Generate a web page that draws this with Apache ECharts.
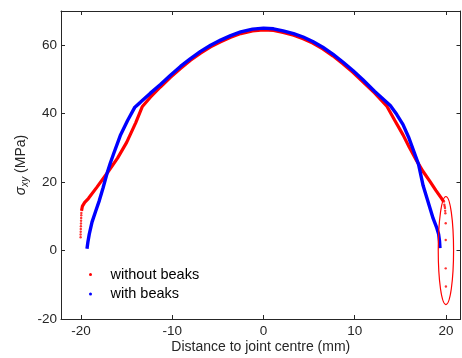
<!DOCTYPE html>
<html>
<head>
<meta charset="utf-8">
<script src="https://cdn.jsdelivr.net/npm/echarts@6/dist/echarts.min.js"></script>
<style>
html,body{margin:0;padding:0;background:#fff;}
#chart{width:462px;height:358px;}
</style>
</head>
<body>
<div id="chart"></div>
<script>
// ---- data ----
var xTicks = [-20, -10, 0, 10, 20];
var yTicks = [-20, 0, 20, 40, 60];
var seriesNames = ['without beaks', 'with beaks'];

// "without beaks" dense part (x mm, sigma_xy MPa)
var redLine = [
  [-19.95, 11.6], [-19.85, 13.0], [-19.6, 14.1], [-19.2, 15.2], [-18.3, 18.4],
  [-17.15, 22.6], [-16.0, 27.0], [-15.0, 31.6], [-14.0, 37.4], [-13.3, 42.0],
  [-12.4, 44.8], [-11.3, 47.8], [-10.2, 50.6], [-9.1, 53.2], [-8.0, 55.6],
  [-6.9, 57.7], [-5.8, 59.5], [-4.7, 61.0], [-3.6, 62.3], [-2.5, 63.4],
  [-1.2, 64.2], [0, 64.5], [1.1, 64.3], [2.15, 63.7], [3.3, 62.9],
  [4.35, 61.9], [5.4, 60.6], [6.5, 58.9], [7.6, 56.9], [8.7, 54.6],
  [9.8, 52.1], [10.9, 49.3], [12.2, 46.0], [13.5, 42.3], [14.4, 38.0],
  [15.3, 33.8], [16.0, 30.1], [16.8, 26.2], [17.5, 23.1], [18.25, 20.2],
  [18.9, 17.6], [19.5, 15.3], [19.75, 14.3]
];
// "without beaks" sparse end points
var redDotsLeft = [
  [-20.05, 3.9], [-20.05, 4.7], [-20.04, 5.5], [-20.03, 6.3], [-20.02, 7.1],
  [-20.01, 7.9], [-20.0, 8.7], [-19.99, 9.5], [-19.98, 10.3], [-19.97, 11.0]
];
var redDotsRight = [
  [19.79, 14.3], [19.83, 13.4], [19.87, 12.9], [19.9, 12.4], [19.92, 11.6],
  [19.94, 10.9], [19.98, 8.0], [19.98, 3.1], [19.98, -5.2], [20.0, -10.5]
];
// "with beaks"
var blueLine = [
  [-19.35, 0.5], [-19.25, 2.5], [-19.1, 4.8], [-18.8, 8.3], [-18.4, 11.5],
  [-18.0, 14.6], [-17.6, 18.2], [-17.15, 22.6], [-16.8, 25.5], [-16.4, 28.5],
  [-15.7, 33.6], [-14.9, 38.0], [-14.1, 41.9], [-13.5, 43.3], [-12.4, 46.0],
  [-11.3, 48.5], [-10.2, 51.2], [-9.1, 53.8], [-8.0, 56.1], [-6.9, 58.2],
  [-5.8, 60.0], [-4.7, 61.5], [-3.6, 62.8], [-2.5, 63.9], [-1.2, 64.7],
  [0, 65.0], [1.1, 64.8], [2.15, 64.2], [3.3, 63.4], [4.35, 62.4],
  [5.4, 61.1], [6.5, 59.4], [7.6, 57.4], [8.7, 55.1], [9.8, 52.6],
  [10.9, 49.9], [12.2, 46.5], [13.9, 42.4], [14.6, 39.8], [15.3, 36.8],
  [15.9, 33.2], [16.4, 29.6], [17.0, 25.2], [17.5, 19.0], [17.9, 15.5],
  [18.3, 12.0], [18.6, 9.4], [19.0, 6.6], [19.2, 4.8], [19.3, 2.8],
  [19.35, 0.7]
];
// highlight ellipse: [centre x, centre y, half-width, half-height]
var ellipseMark = [[20, 0, 0.84, 15.8]];

var xRange = [-22.2, 21.6];
var yRange = [-20, 70];

// ---- chart ----
var axisColor = '#262626';
var fontFam = '"Liberation Sans", Arial, Helvetica, sans-serif';
var chart = echarts.init(document.getElementById('chart'), null, {renderer: 'canvas'});

function xAxisCfg(pos, showLabels) {
  return {
    type: 'value', position: pos, min: xRange[0], max: xRange[1],
    name: showLabels ? 'Distance to joint centre (mm)' : '',
    nameLocation: 'middle', nameGap: 21, nameMoveOverlap: false,
    nameTextStyle: {color: axisColor, fontSize: 14, fontFamily: fontFam},
    axisLine: {show: true, onZero: false, lineStyle: {color: axisColor, width: 1}},
    axisTick: {show: true, inside: true, length: 4, customValues: xTicks, lineStyle: {color: axisColor}},
    axisLabel: {show: showLabels, customValues: xTicks, margin: 5, color: axisColor, fontSize: 13.5, fontFamily: fontFam},
    splitLine: {show: false}
  };
}
function yAxisCfg(pos, showLabels) {
  return {
    type: 'value', position: pos, min: yRange[0], max: yRange[1],
    name: showLabels ? '{s|σ}{sub|xy}{n| (MPa)}' : '',
    nameLocation: 'middle', nameGap: 31, nameRotate: 90, nameMoveOverlap: false,
    nameTextStyle: {
      color: axisColor, fontFamily: fontFam,
      rich: {
        s: {fontSize: 14, fontStyle: 'italic', fontFamily: fontFam, color: axisColor},
        sub: {fontSize: 10, fontStyle: 'italic', fontFamily: fontFam, color: axisColor, padding: [7, 0, 0, 0]},
        n: {fontSize: 14, fontFamily: fontFam, color: axisColor}
      }
    },
    axisLine: {show: true, onZero: false, lineStyle: {color: axisColor, width: 1}},
    axisTick: {show: true, inside: true, length: 4, customValues: yTicks, lineStyle: {color: axisColor}},
    axisLabel: {show: showLabels, customValues: yTicks, margin: 4, color: axisColor, fontSize: 13.5, fontFamily: fontFam},
    splitLine: {show: false}
  };
}

var option = {
  animation: false,
  backgroundColor: '#fff',
  grid: {left: 61, right: 1.5, top: 11, bottom: 39, containLabel: false, outerBoundsMode: 'none'},
  xAxis: [xAxisCfg('bottom', true), xAxisCfg('top', false)],
  yAxis: [yAxisCfg('left', true), yAxisCfg('right', false)],
  legend: {
    orient: 'vertical', left: 84, top: 262,
    itemWidth: 30, itemHeight: 3, itemGap: 4.5,
    textStyle: {color: '#000', fontSize: 14.5, fontFamily: fontFam, lineHeight: 14},
    data: [
      {name: seriesNames[0], icon: 'circle', itemStyle: {color: '#ff0000'}},
      {name: seriesNames[1], icon: 'circle', itemStyle: {color: '#0000ff'}}
    ]
  },
  series: [
    {
      name: seriesNames[0], type: 'line', data: redLine, showSymbol: false, symbol: 'none',
      lineStyle: {color: '#ff0000', width: 3.2}, itemStyle: {color: '#ff0000'}, z: 2
    },
    {
      name: seriesNames[0], type: 'scatter', data: redDotsLeft.concat(redDotsRight),
      symbol: 'circle', symbolSize: 2.4, itemStyle: {color: '#ff0000'}, z: 2
    },
    {
      name: seriesNames[1], type: 'line', data: blueLine, showSymbol: false, symbol: 'none',
      lineStyle: {color: '#0000ff', width: 3.4}, itemStyle: {color: '#0000ff'}, z: 3
    },
    {
      type: 'custom', data: ellipseMark, z: 4, silent: true,
      renderItem: function (params, api) {
        var c = api.coord([api.value(0), api.value(1)]);
        var s = api.size([api.value(2), api.value(3)]);
        return {
          type: 'ellipse',
          shape: {cx: c[0], cy: c[1], rx: s[0], ry: s[1]},
          style: {fill: 'none', stroke: '#ff0000', lineWidth: 1.2}
        };
      }
    }
  ]
};
chart.setOption(option);
</script>
</body>
</html>
